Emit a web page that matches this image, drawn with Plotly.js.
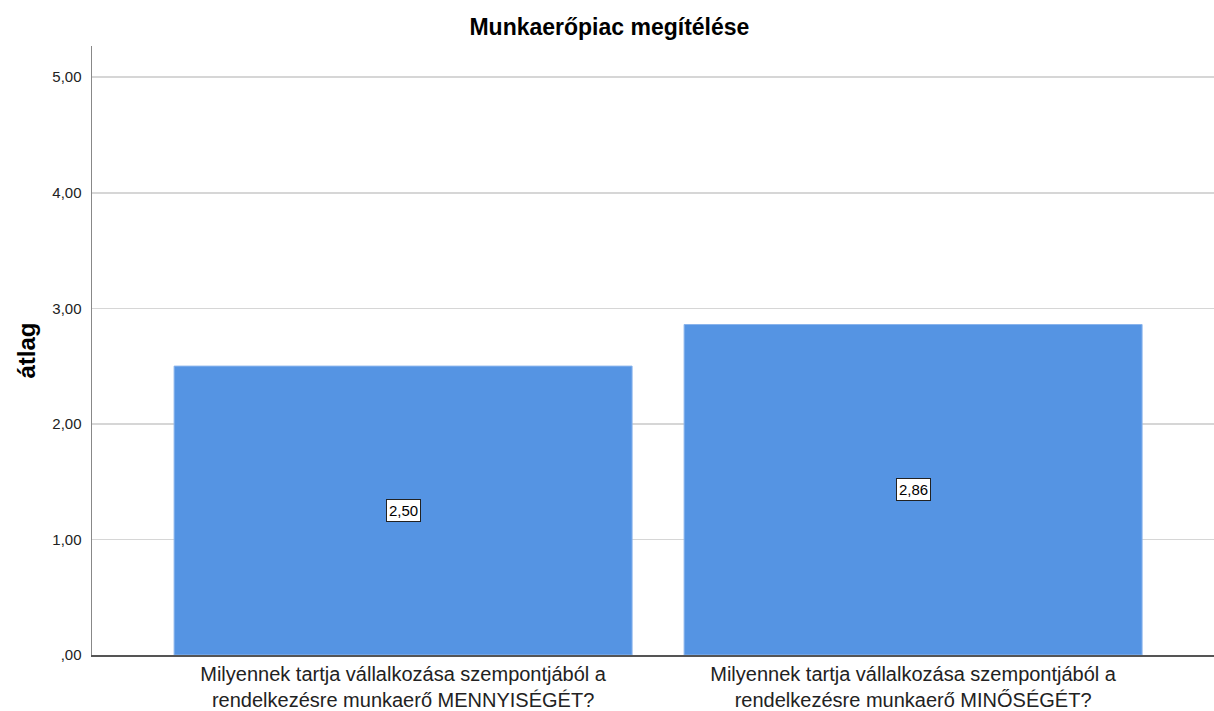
<!DOCTYPE html>
<html>
<head>
<meta charset="utf-8">
<script src="https://cdn.plot.ly/plotly-3.0.1.min.js"></script>
<style>html,body{margin:0;padding:0;background:#fff;}#chart{width:1214px;height:711px;}</style>
</head>
<body>
<div id="chart"></div>
<script>
const categories = [
  "Milyennek tartja vállalkozása szempontjából a<br>rendelkezésre munkaerő MENNYISÉGÉT?",
  "Milyennek tartja vállalkozása szempontjából a<br>rendelkezésre munkaerő MINŐSÉGÉT?"
];
const values = [2.50, 2.86];
const valueLabels = ["2,50", "2,86"];
const yTickVals = [0, 1, 2, 3, 4, 5];
const yTickText = [",00", "1,00", "2,00", "3,00", "4,00", "5,00"];

const FONT = "Liberation Sans, Arial, sans-serif";

const trace = {
  type: "bar",
  x: categories,
  y: values,
  width: 0.898,
  marker: { color: "#5594e3", line: { color: "#8ab4ec", width: 1 } },
  hoverinfo: "none"
};

const annotations = categories.map((c, i) => ({
  x: c, y: values[i] / 2, xref: "x", yref: "y",
  text: valueLabels[i], showarrow: false,
  font: { family: FONT, size: 15, color: "#000" },
  bgcolor: "#ffffff", bordercolor: "#222", borderwidth: 1, borderpad: 2
}));

const layout = {
  width: 1214, height: 711,
  margin: { l: 92, r: 0, t: 46, b: 56 },
  paper_bgcolor: "#fff", plot_bgcolor: "#fff",
  showlegend: false,
  title: {
    text: "<b>Munkaerőpiac megítélése</b>",
    font: { family: FONT, size: 23, color: "#000" },
    x: 0.502, xref: "container", y: 0.962, yref: "container", yanchor: "middle"
  },
  xaxis: {
    type: "category",
    range: [-0.61, 1.59],
    showline: true, linecolor: "#555", linewidth: 1.5,
    showgrid: false, ticks: "",
    ticklabelstandoff: 0,
    tickfont: { family: FONT, size: 20, color: "#222" },
    fixedrange: true
  },
  yaxis: {
    range: [0, 5.27],
    tickvals: yTickVals, ticktext: yTickText,
    showline: true, linecolor: "#888", linewidth: 1.5,
    showgrid: true, gridcolor: "#d6d6d6", gridwidth: 1.5,
    zeroline: false, ticks: "",
    ticklabelstandoff: 6,
    tickfont: { family: FONT, size: 15, color: "#222" },
    title: { text: "<b>átlag</b>", font: { family: FONT, size: 24, color: "#000" }, standoff: 10 },
    fixedrange: true
  },
  annotations: annotations
};

Plotly.newPlot("chart", [trace], layout, { displayModeBar: false, staticPlot: true });
</script>
</body>
</html>
